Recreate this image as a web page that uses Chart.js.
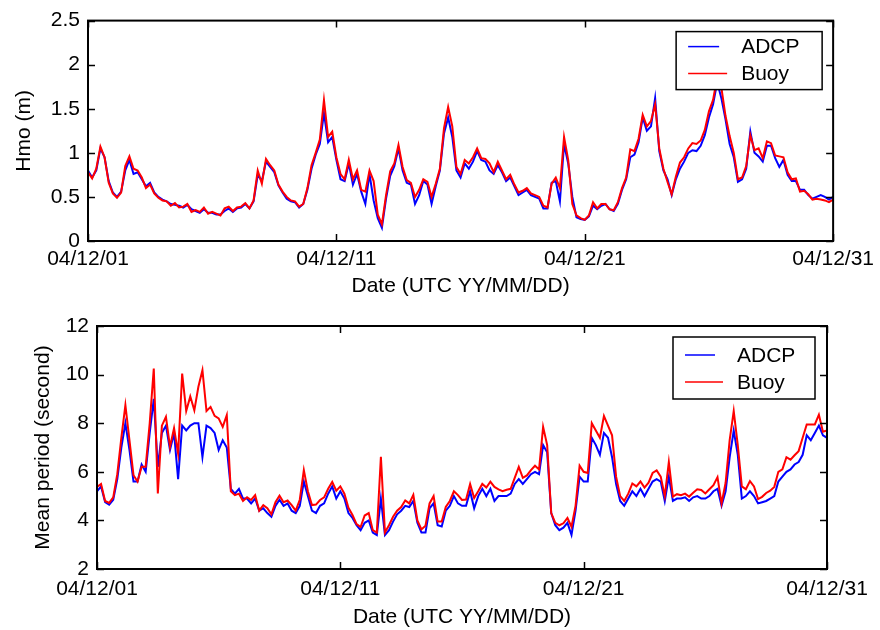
<!DOCTYPE html>
<html>
<head>
<meta charset="utf-8">
<title>ADCP vs Buoy wave statistics, December 2004</title>
<script src="https://cdn.jsdelivr.net/npm/chart.js@4.4.1/dist/chart.umd.min.js"></script>
<style>
  html, body { margin: 0; padding: 0; background: #fff; }
  #wrap { position: relative; width: 880px; height: 630px; }
  canvas { position: absolute; left: 0; }
</style>
</head>
<body>
<div id="wrap">
  <canvas id="hmoChart" width="880" height="300" style="top:0"></canvas>
  <canvas id="periodChart" width="880" height="330" style="top:300px"></canvas>
</div>
<script>
// Sampling grid: hours since 2004-12-01 00:00 UTC, one sample every 4 hours.
const STEP_HOURS = 4;
const sampleHours = Array.from({ length: 181 }, (_, i) => i * STEP_HOURS);

// Date tick labels every ten days.
const dateTicks = ['04/12/01', '04/12/11', '04/12/21', '04/12/31'];

// Significant wave height Hmo (m).
const hmoAdcp = [
  0.80, 0.72, 0.80, 1.05, 0.95, 0.68, 0.55, 0.50, 0.56, 0.80, 0.92, 0.76, 0.78, 0.70, 0.62, 0.66,
  0.55, 0.50, 0.47, 0.45, 0.42, 0.41, 0.40, 0.38, 0.41, 0.36, 0.34, 0.32, 0.36, 0.32, 0.32, 0.30,
  0.30, 0.34, 0.37, 0.33, 0.37, 0.38, 0.42, 0.37, 0.45, 0.75, 0.68, 0.90, 0.84, 0.78,
  0.63, 0.55, 0.48, 0.45, 0.44, 0.38, 0.42, 0.58, 0.82, 0.98, 1.10, 1.45, 1.12, 1.18, 0.92,
  0.70, 0.68, 0.88, 0.64, 0.76, 0.56, 0.42, 0.76, 0.46, 0.26, 0.15, 0.48, 0.74, 0.85, 1.05,
  0.80, 0.66, 0.64, 0.42, 0.52, 0.68, 0.64, 0.42, 0.62, 0.80, 1.22, 1.40, 1.18, 0.80, 0.72,
  0.88, 0.82, 0.90, 1.02, 0.92, 0.90, 0.80, 0.76, 0.86, 0.78, 0.68, 0.72, 0.62, 0.52, 0.55,
  0.58, 0.52, 0.50, 0.48, 0.37, 0.37, 0.66, 0.68, 0.45, 1.10, 0.88, 0.50, 0.27, 0.25, 0.24,
  0.28, 0.40, 0.36, 0.40, 0.42, 0.36, 0.34, 0.42, 0.58, 0.70, 0.95, 0.98, 1.12, 1.40, 1.25,
  1.30, 1.62, 1.02, 0.80, 0.70, 0.52, 0.70, 0.82, 0.90, 1.00, 1.03, 1.02, 1.08, 1.20, 1.40,
  1.55, 1.80, 1.62, 1.38, 1.10, 0.95, 0.67, 0.70, 0.82, 1.24, 1.00, 0.96, 0.90, 1.08, 1.08,
  0.94, 0.84, 0.92, 0.75, 0.68, 0.68, 0.58, 0.58, 0.52, 0.48, 0.50, 0.52, 0.50, 0.47, 0.50
];
const hmoBuoy = [
  0.78, 0.71, 0.82, 1.07, 0.95, 0.66, 0.54, 0.49, 0.55, 0.85, 0.96, 0.82, 0.80, 0.72, 0.60, 0.64,
  0.54, 0.49, 0.46, 0.45, 0.40, 0.43, 0.38, 0.39, 0.42, 0.33, 0.35, 0.33, 0.38, 0.31, 0.33, 0.31,
  0.29, 0.37, 0.39, 0.34, 0.38, 0.39, 0.43, 0.37, 0.46, 0.80, 0.65, 0.93, 0.86, 0.80,
  0.64, 0.56, 0.50, 0.46, 0.45, 0.39, 0.42, 0.60, 0.86, 1.00, 1.15, 1.60, 1.18, 1.24, 0.95,
  0.76, 0.70, 0.92, 0.70, 0.80, 0.58, 0.56, 0.80, 0.68, 0.30, 0.19, 0.52, 0.79, 0.88, 1.09,
  0.84, 0.69, 0.66, 0.50, 0.58, 0.70, 0.67, 0.50, 0.65, 0.82, 1.28, 1.52, 1.30, 0.84, 0.76,
  0.92, 0.88, 0.95, 1.05, 0.94, 0.93, 0.88, 0.78, 0.90, 0.80, 0.70, 0.75, 0.64, 0.55, 0.57,
  0.60, 0.54, 0.52, 0.50, 0.40, 0.38, 0.65, 0.72, 0.60, 1.18, 0.92, 0.42, 0.29, 0.26, 0.24,
  0.29, 0.44, 0.37, 0.42, 0.42, 0.36, 0.35, 0.44, 0.60, 0.72, 1.04, 1.02, 1.16, 1.43, 1.30,
  1.36, 1.55, 1.05, 0.82, 0.67, 0.53, 0.73, 0.89, 0.95, 1.05, 1.11, 1.10, 1.14, 1.26, 1.47,
  1.60, 1.86, 1.74, 1.42, 1.19, 1.00, 0.70, 0.72, 0.85, 1.20, 1.03, 1.05, 0.94, 1.13, 1.11,
  0.97, 0.96, 0.95, 0.78, 0.70, 0.71, 0.56, 0.57, 0.53, 0.47, 0.48, 0.47, 0.46, 0.44, 0.47
];

// Mean wave period (s).
const periodAdcp = [
  5.20, 5.40, 4.75, 4.65, 4.85, 5.70, 7.00, 8.00, 6.90, 5.60, 5.60, 6.30, 6.00, 7.60, 9.00, 6.20,
  7.60, 7.90, 6.90, 7.60, 5.70, 7.90, 7.70, 7.90, 8.00, 8.00, 6.60, 7.90, 7.80, 7.60, 6.90, 7.30,
  7.00, 5.30, 5.10, 5.30, 4.90, 4.90, 4.70, 4.90, 4.40, 4.50, 4.30, 4.15, 4.60, 4.85,
  4.60, 4.70, 4.40, 4.30, 4.60, 5.60, 5.00, 4.40, 4.30, 4.60, 4.70, 5.10, 5.40, 4.90, 5.20,
  4.90, 4.30, 4.10, 3.80, 3.60, 3.90, 4.00, 3.50, 3.40, 4.90, 3.40, 3.60, 3.95, 4.25, 4.40,
  4.60, 4.55, 4.80, 3.90, 3.50, 3.50, 4.50, 4.70, 3.80, 3.75, 4.40, 4.60, 5.00, 4.70, 4.60,
  4.60, 5.20, 4.50, 5.00, 5.30, 5.00, 5.30, 4.80, 5.00, 5.00, 5.00, 5.10, 5.50, 5.70, 5.50,
  5.70, 5.90, 6.00, 5.90, 7.10, 6.80, 4.30, 3.80, 3.60, 3.70, 3.90, 3.40, 4.40, 5.80, 5.60,
  5.60, 7.40, 7.10, 6.70, 7.60, 7.40, 6.60, 5.50, 4.80, 4.60, 4.90, 5.20, 5.00, 5.30, 5.00,
  5.30, 5.60, 5.70, 5.60, 4.80, 5.80, 4.80, 4.90, 4.90, 4.95, 4.80, 4.95, 5.00, 4.90, 4.90,
  5.00, 5.20, 5.30, 4.60, 5.20, 6.60, 7.70, 6.70, 4.90, 5.00, 5.20, 5.00, 4.70, 4.75, 4.80,
  4.90, 5.00, 5.60, 5.80, 6.00, 6.10, 6.30, 6.40, 6.70, 7.50, 7.30, 7.60, 7.90, 7.50, 7.40
];
const periodBuoy = [
  5.38, 5.50, 4.80, 4.72, 4.95, 5.90, 7.40, 8.74, 7.30, 5.86, 5.60, 6.21, 6.21, 8.00, 10.25, 5.11,
  7.90, 8.26, 7.03, 7.80, 6.75, 10.04, 8.50, 9.10, 8.53, 9.50, 10.18, 8.50, 8.67, 8.30, 8.20, 7.85,
  8.33, 5.20, 5.04, 5.10, 4.80, 4.95, 4.84, 5.04, 4.40, 4.63, 4.50, 4.25, 4.75, 5.02,
  4.75, 4.82, 4.63, 4.40, 4.85, 6.07, 5.20, 4.63, 4.65, 4.84, 4.95, 5.30, 5.58, 5.22, 5.40,
  5.10, 4.52, 4.22, 3.85, 3.73, 4.20, 4.30, 3.60, 3.50, 6.62, 3.50, 3.80, 4.15, 4.40, 4.55,
  4.82, 4.70, 5.05, 4.00, 3.63, 3.78, 4.70, 5.00, 3.95, 3.95, 4.55, 4.80, 5.20, 5.04, 4.84,
  4.86, 5.50, 4.92, 5.20, 5.50, 5.35, 5.59, 5.38, 5.28, 5.20, 5.26, 5.30, 5.75, 6.20, 5.75,
  5.85, 6.07, 6.25, 6.10, 7.85, 7.10, 4.30, 3.90, 3.80, 3.88, 4.10, 3.74, 4.60, 6.25, 6.00,
  5.95, 8.00, 7.70, 7.40, 8.30, 7.90, 7.50, 5.80, 5.00, 4.80, 5.10, 5.52, 5.40, 5.60, 5.35,
  5.55, 5.95, 6.06, 5.80, 5.00, 6.40, 4.98, 5.08, 5.04, 5.10, 4.98, 5.14, 5.28, 5.25, 5.11,
  5.28, 5.45, 5.78, 4.70, 5.55, 7.30, 8.50, 7.10, 5.40, 5.28, 5.62, 5.40, 4.88, 4.97, 5.13,
  5.22, 5.38, 6.00, 6.10, 6.60, 6.50, 6.68, 6.85, 7.40, 7.95, 7.95, 7.95, 8.35, 7.65, 7.70
];

const seriesNames = ['ADCP', 'Buoy'];
const seriesColors = ['#0000ff', '#ff0000'];

const FONT_FAMILY = '"Liberation Sans", Arial, Helvetica, sans-serif';
const FONT_SIZE = 21;

const pairs = (values) => values.map((v, i) => ({ x: sampleHours[i], y: v }));

// Plain numeric tick text: 0, 0.5, 1, 1.5 ...
const plainNumber = (v) => String(Math.round(v * 100) / 100);

// Boxed axes with inward tick marks on all four sides.
const framePlugin = {
  id: 'frame',
  afterDatasetsDraw(chart) {
    const { ctx, chartArea: a, scales: { x, y } } = chart;
    const len = 7;
    ctx.save();
    ctx.strokeStyle = '#000';
    ctx.lineWidth = 1.5;
    ctx.beginPath();
    x.ticks.forEach((t) => {
      const px = Math.round(x.getPixelForValue(t.value)) + 0.5;
      ctx.moveTo(px, a.bottom); ctx.lineTo(px, a.bottom - len);
      ctx.moveTo(px, a.top); ctx.lineTo(px, a.top + len);
    });
    y.ticks.forEach((t) => {
      const py = Math.round(y.getPixelForValue(t.value)) + 0.5;
      ctx.moveTo(a.left, py); ctx.lineTo(a.left + len, py);
      ctx.moveTo(a.right, py); ctx.lineTo(a.right - len, py);
    });
    ctx.stroke();
    ctx.lineWidth = 2;
    ctx.strokeRect(a.left, a.top, a.right - a.left, a.bottom - a.top);
    ctx.restore();
  }
};

// Boxed legend in the upper-right corner of the plot area.
const boxLegendPlugin = {
  id: 'boxLegend',
  afterDraw(chart, args, opts) {
    const { ctx, chartArea: a } = chart;
    const w = opts.width, h = opts.height;
    const x0 = a.right - opts.right - w;
    const y0 = a.top + opts.top;
    ctx.save();
    ctx.fillStyle = '#fff';
    ctx.fillRect(x0, y0, w, h);
    ctx.strokeStyle = '#000';
    ctx.lineWidth = 1.5;
    ctx.strokeRect(x0, y0, w, h);
    ctx.font = FONT_SIZE + 'px ' + FONT_FAMILY;
    ctx.textBaseline = 'middle';
    ctx.textAlign = 'left';
    chart.data.datasets.forEach((ds, i) => {
      const rowY = y0 + opts.rowTop + i * opts.rowGap;
      ctx.strokeStyle = ds.borderColor;
      ctx.lineWidth = 1.5;
      ctx.beginPath();
      ctx.moveTo(x0 + opts.lineStart, rowY);
      ctx.lineTo(x0 + opts.lineStart + opts.lineLen[i], rowY);
      ctx.stroke();
      ctx.fillStyle = '#000';
      ctx.fillText(ds.label, x0 + opts.textX, rowY + 1);
    });
    ctx.restore();
  }
};

function buildChart(canvasId, cfg) {
  const canvas = document.getElementById(canvasId);
  const H = canvas.height, W = canvas.width;
  return new Chart(canvas, {
    type: 'line',
    data: {
      datasets: [
        { label: seriesNames[0], data: pairs(cfg.adcp), borderColor: seriesColors[0], order: 1 },
        { label: seriesNames[1], data: pairs(cfg.buoy), borderColor: seriesColors[1], order: 0 }
      ]
    },
    options: {
      responsive: false,
      animation: false,
      devicePixelRatio: 1,
      parsing: false,
      normalized: true,
      elements: {
        line: { borderWidth: 2, tension: 0, fill: false, borderJoinStyle: 'miter' },
        point: { radius: 0, hoverRadius: 0 }
      },
      layout: { padding: { left: 0, top: cfg.area.top, right: W - cfg.area.right, bottom: 0 } },
      plugins: {
        legend: { display: false },
        tooltip: { enabled: false },
        boxLegend: cfg.legend
      },
      scales: {
        x: {
          type: 'linear',
          min: 0,
          max: 720,
          grid: { display: false, drawTicks: false },
          border: { display: false },
          ticks: {
            stepSize: 240,
            padding: cfg.xTickPad,
            color: '#000',
            maxRotation: 0,
            autoSkip: false,
            font: { family: FONT_FAMILY, size: FONT_SIZE },
            callback: (v) => dateTicks[Math.round(v / 240)]
          },
          title: {
            display: true,
            text: 'Date (UTC YY/MM/DD)',
            color: '#000',
            font: { family: FONT_FAMILY, size: FONT_SIZE },
            padding: { top: 0, bottom: cfg.xTitlePad }
          },
          afterFit: (s) => { s.height = H - cfg.area.bottom; }
        },
        y: {
          min: cfg.yMin,
          max: cfg.yMax,
          grid: { display: false, drawTicks: false },
          border: { display: false },
          ticks: {
            stepSize: cfg.yStep,
            padding: 8,
            color: '#000',
            font: { family: FONT_FAMILY, size: FONT_SIZE },
            callback: plainNumber
          },
          title: {
            display: true,
            text: cfg.yTitle,
            color: '#000',
            font: { family: FONT_FAMILY, size: FONT_SIZE },
            padding: { top: cfg.yTitlePad, bottom: 0 }
          },
          afterFit: (s) => { s.width = cfg.area.left; }
        }
      }
    },
    plugins: [framePlugin, boxLegendPlugin]
  });
}

buildChart('hmoChart', {
  adcp: hmoAdcp,
  buoy: hmoBuoy,
  yMin: 0, yMax: 2.5, yStep: 0.5,
  yTitle: 'Hmo (m)',
  area: { left: 88, top: 16, right: 837, bottom: 241 },
  xTickPad: 6, xTitlePad: 1, yTitlePad: 12,
  legend: { right: 11, top: 11, width: 146, height: 58, rowTop: 15, rowGap: 27,
            lineStart: 12, lineLen: [31, 39], textX: 65 }
});

buildChart('periodChart', {
  adcp: periodAdcp,
  buoy: periodBuoy,
  yMin: 2, yMax: 12, yStep: 2,
  yTitle: 'Mean period (second)',
  area: { left: 97, top: 26, right: 827, bottom: 269 },
  xTickPad: 8, xTitlePad: 0, yTitlePad: 31,
  legend: { right: 12, top: 11, width: 142, height: 62, rowTop: 18, rowGap: 27,
            lineStart: 12, lineLen: [30, 38], textX: 64 }
});
</script>
</body>
</html>
